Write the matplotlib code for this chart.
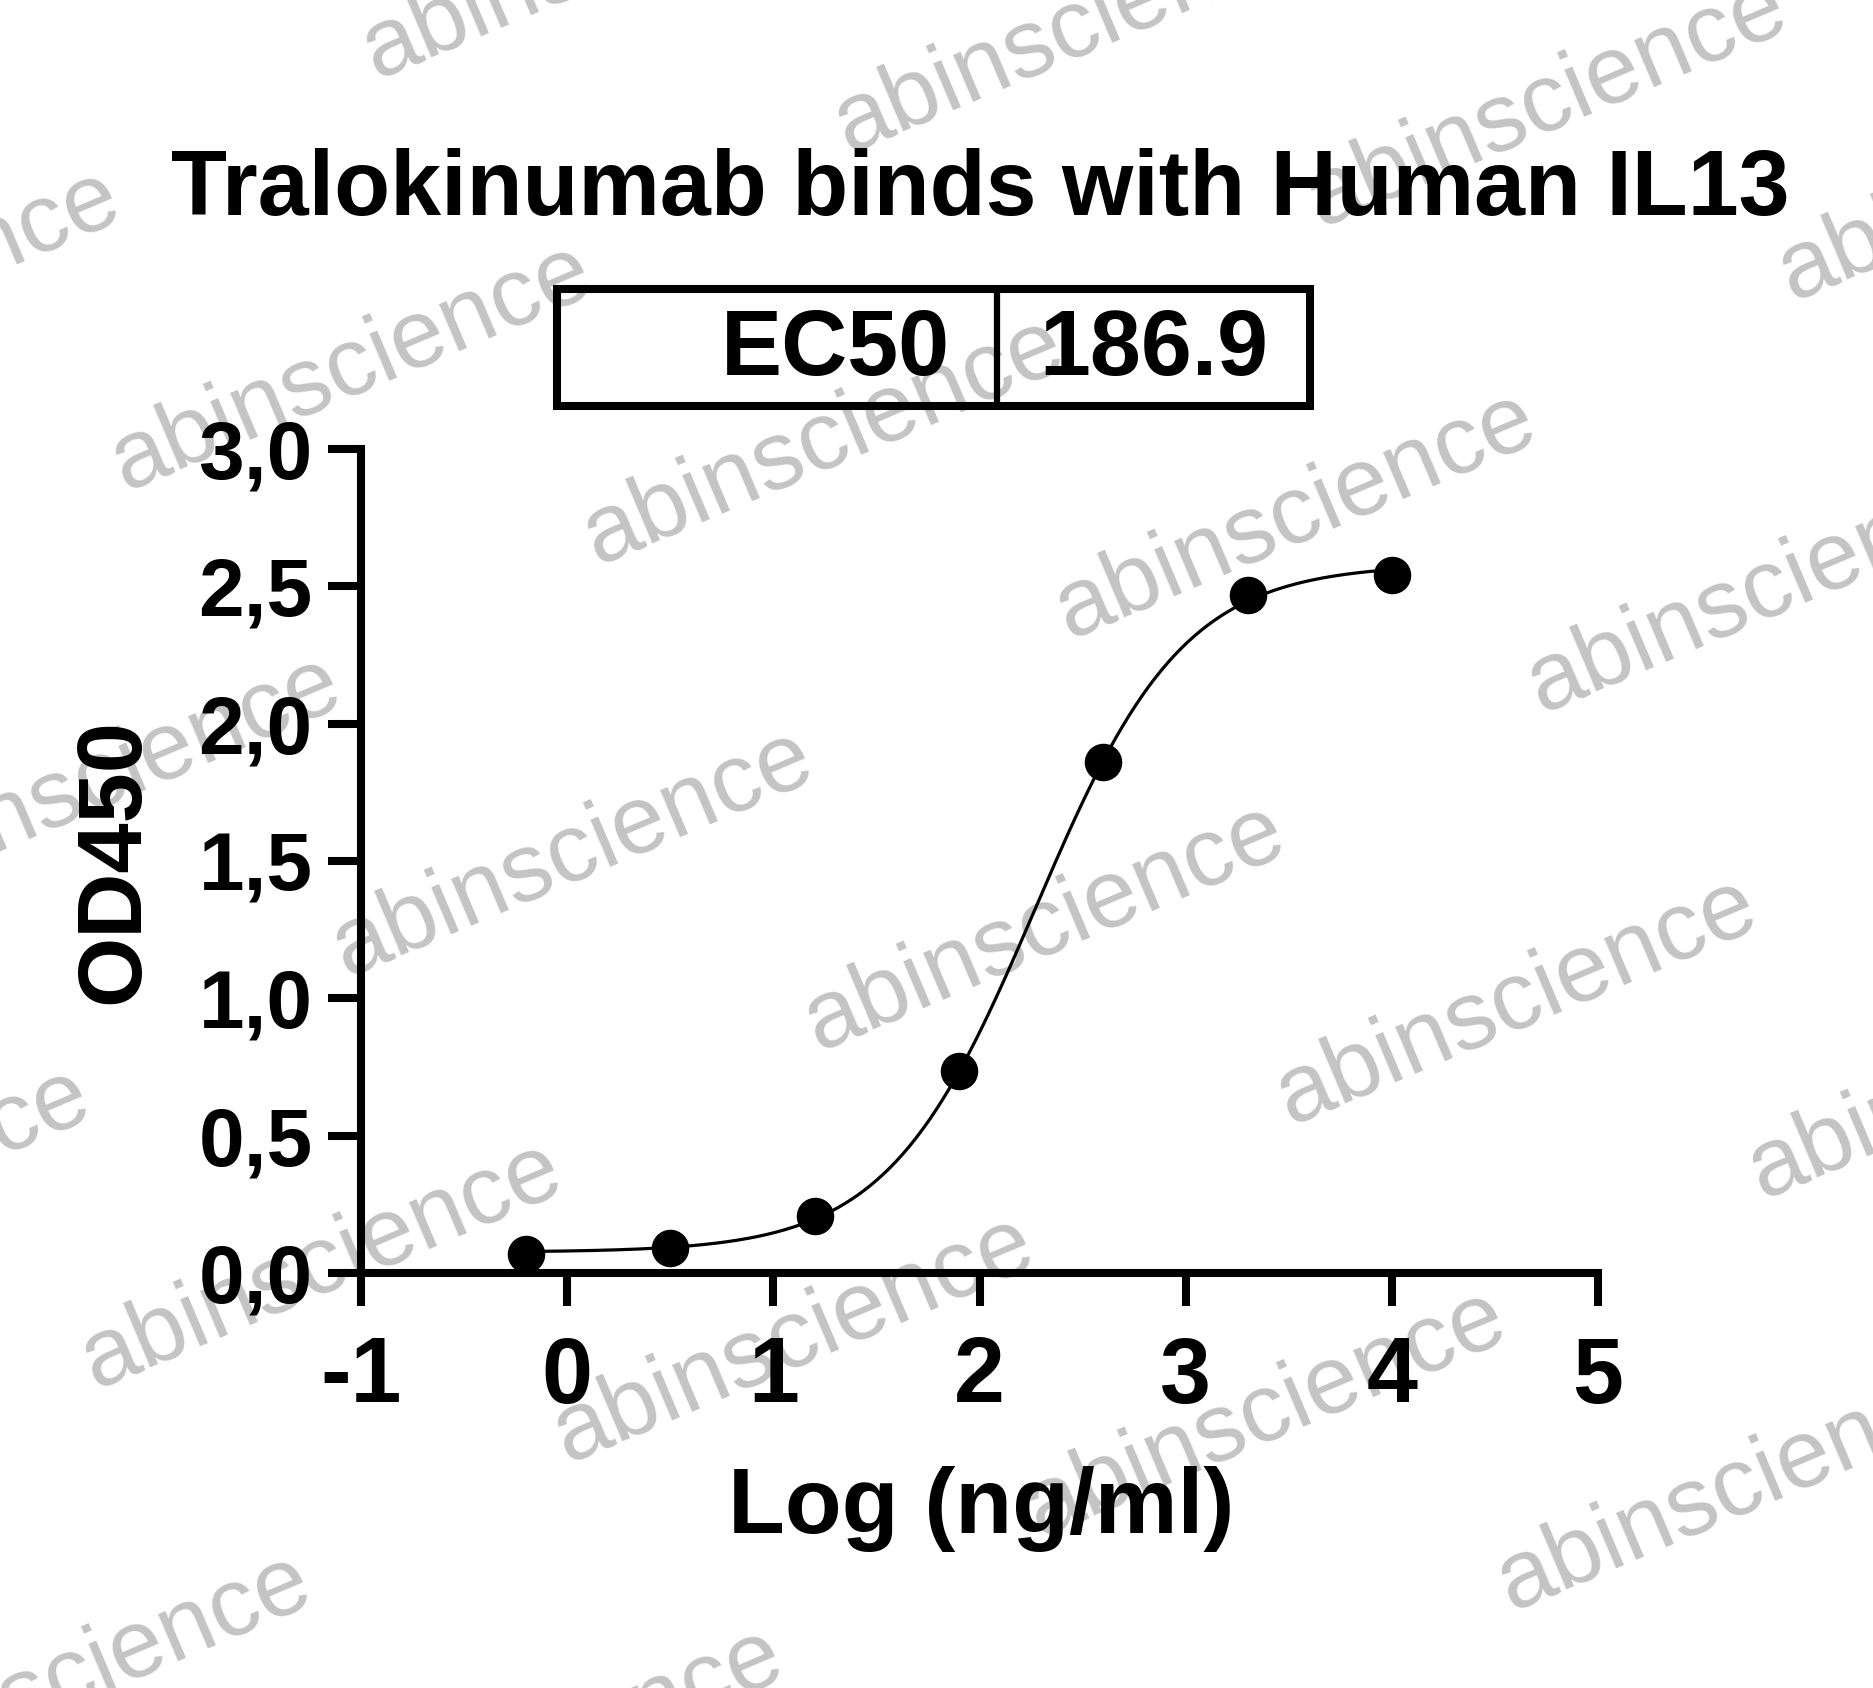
import numpy as np
import matplotlib
matplotlib.use("Agg")
import matplotlib.pyplot as plt
from matplotlib.patches import Rectangle
from matplotlib.lines import Line2D

plt.rcParams['font.family'] = ['Liberation Sans', 'DejaVu Sans']
plt.rcParams['font.weight'] = 'bold'

# DATA
log_conc = [-0.2, 0.5, 1.2, 1.9, 2.6, 3.3, 4.0]          # Log (ng/ml)
od450 = [0.069, 0.091, 0.207, 0.735, 1.859, 2.469, 2.542]
ec50 = 186.9

x_ticks = [-1, 0, 1, 2, 3, 4, 5]
x_ticklabels = ["-1", "0", "1", "2", "3", "4", "5"]
y_ticks = [0.0, 0.5, 1.0, 1.5, 2.0, 2.5, 3.0]
y_ticklabels = ["0,0", "0,5", "1,0", "1,5", "2,0", "2,5", "3,0"]

title = "Tralokinumab binds with Human IL13"
watermark = "abinscience"


def fit_4pl(x, y, log_ec50):
    """4PL fit with fixed EC50: grid over hill slope, bottom/top by least squares."""
    x = np.asarray(x)
    y = np.asarray(y)
    best = None
    for h in np.linspace(0.5, 2.5, 401):
        f = 1.0 / (1.0 + 10 ** ((log_ec50 - x) * h))
        A = np.column_stack([1 - f, f])
        coef, *_ = np.linalg.lstsq(A, y, rcond=None)
        err = np.sum((A @ coef - y) ** 2)
        if best is None or err < best[0]:
            best = (err, coef[0], coef[1], h)
    return best[1:]


log_ec50 = np.log10(ec50)
bottom, top, hill = fit_4pl(log_conc, od450, log_ec50)
xc = np.linspace(min(log_conc), max(log_conc), 400)
yc = bottom + (top - bottom) / (1 + 10 ** ((log_ec50 - xc) * hill))

W, H = 1873, 1688
fig = plt.figure(figsize=(W / 100, H / 100), dpi=100)

# watermark lattice (pixel coords, y downward)
p0 = np.array([573, 854])
va_ = np.array([472, 74])
vb_ = np.array([251, -412])
for i in range(-4, 5):
    for j in range(-4, 5):
        px, py = p0 + i * va_ + j * vb_
        if -300 < px < W + 300 and -200 < py < H + 200:
            fig.text(px / W, 1 - py / H, watermark, fontsize=70, fontweight='normal',
                     color='#c4c4c4', rotation=23, rotation_mode='anchor',
                     ha='center', va='center', zorder=-5)

ax = fig.add_axes([361 / W, 1 - 1273 / H, (1598 - 361) / W, (1273 - 449) / H])
ax.set_facecolor('none')

ax.plot(xc, yc, color='black', lw=2.3, zorder=3)
ax.plot(log_conc, od450, 'o', color='black', ms=26, clip_on=False, zorder=4)

ax.set_xlim(-1, 5)
ax.set_ylim(0, 3)
for s in ['top', 'right']:
    ax.spines[s].set_visible(False)
for s in ['left', 'bottom']:
    ax.spines[s].set_linewidth(5.8)
    ax.spines[s].set_capstyle('projecting')

ax.set_xticks(x_ticks)
ax.set_xticklabels(x_ticklabels, fontsize=66, fontweight='bold')
ax.set_yticks(y_ticks)
ax.set_yticklabels(y_ticklabels, fontsize=59, fontweight='bold')
ax.tick_params(axis='x', length=24, width=5.8, pad=21)
ax.tick_params(axis='y', length=24, width=5.8, pad=11)

ax.set_xlabel("Log (ng/ml)", fontsize=67, fontweight='bold')
ax.xaxis.set_label_coords(0.501, -0.3155)
ax.xaxis.label.set_va('baseline')
ax.set_ylabel("OD450", fontsize=65, fontweight='bold')
ax.yaxis.set_label_coords(-0.199, 0.5)
ax.yaxis.label.set_va('center')

fig.text(980 / W, 1 - 215 / H, title, fontsize=66, fontweight='bold',
         ha='center', va='baseline')

# EC50 table box
bx0, bx1, by0, by1, bdiv = 557 / W, 1310 / W, 1 - 406 / H, 1 - 289 / H, 997 / W
fig.add_artist(Rectangle((bx0, by0), bx1 - bx0, by1 - by0, transform=fig.transFigure,
                         fill=False, lw=5.8, edgecolor='black', joinstyle='miter'))
fig.add_artist(Line2D([bdiv, bdiv], [by0, by1], transform=fig.transFigure,
                      lw=4.5, color='black'))
fig.text(950 / W, 1 - 375 / H, "EC50", fontsize=66, fontweight='bold',
         ha='right', va='baseline')
fig.text(1154 / W, 1 - 375 / H, f"{ec50}", fontsize=66, fontweight='bold',
         ha='center', va='baseline')

fig.savefig("out.png", dpi=100)
